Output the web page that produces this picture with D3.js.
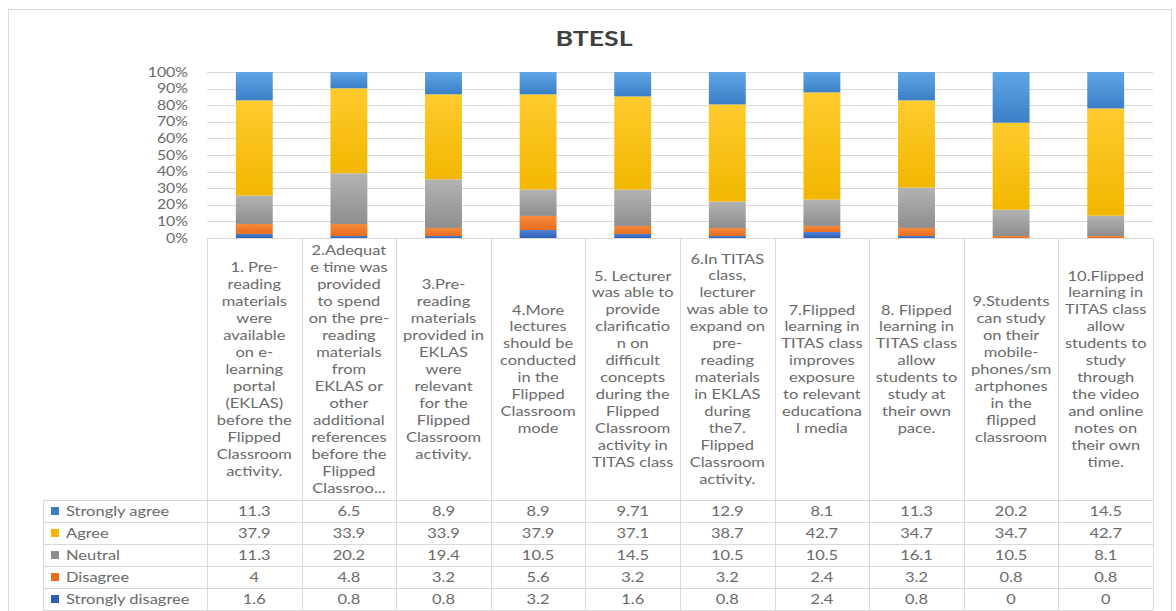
<!DOCTYPE html>
<html>
<head>
<meta charset="utf-8">
<script src="https://cdn.jsdelivr.net/npm/d3@7"></script>
<style>
  body { margin: 0; background: #fff; }
  text { font-family: Lato, "Open Sans", sans-serif; }
</style>
</head>
<body>
<svg id="fig" width="1176" height="611"></svg>
<script>
// chart data
const categories = [
  ['1. Pre-', 'reading', 'materials', 'were', 'available', 'on e-', 'learning', 'portal', '(EKLAS)', 'before the', 'Flipped', 'Classroom', 'activity.'],
  ['2.Adequat', 'e time was', 'provided', 'to spend', 'on the pre-', 'reading', 'materials', 'from', 'EKLAS or', 'other', 'additional', 'references', 'before the', 'Flipped', 'Classroo...'],
  ['3.Pre-', 'reading', 'materials', 'provided in', 'EKLAS', 'were', 'relevant', 'for the', 'Flipped', 'Classroom', 'activity.'],
  ['4.More', 'lectures', 'should be', 'conducted', 'in the', 'Flipped', 'Classroom', 'mode'],
  ['5. Lecturer', 'was able to', 'provide', 'clarificatio', 'n on', 'difficult', 'concepts', 'during the', 'Flipped', 'Classroom', 'activity in', 'TITAS class'],
  ['6.In TITAS', 'class,', 'lecturer', 'was able to', 'expand on', 'pre-', 'reading', 'materials', 'in EKLAS', 'during', 'the7.', 'Flipped', 'Classroom', 'activity.'],
  ['7.Flipped', 'learning in', 'TITAS class', 'improves', 'exposure', 'to relevant', 'educationa', 'l media'],
  ['8. Flipped', 'learning in', 'TITAS class', 'allow', 'students to', 'study at', 'their own', 'pace.'],
  ['9.Students', 'can study', 'on their', 'mobile-', 'phones/sm', 'artphones', 'in the', 'flipped', 'classroom'],
  ['10.Flipped', 'learning in', 'TITAS class', 'allow', 'students to', 'study', 'through', 'the video', 'and online', 'notes on', 'their own', 'time.']
];
const seriesNames = ['Strongly agree', 'Agree', 'Neutral', 'Disagree', 'Strongly disagree'];
const stronglyAgree    = ['11.3', '6.5', '8.9', '8.9', '9.71', '12.9', '8.1', '11.3', '20.2', '14.5'];
const agree            = ['37.9', '33.9', '33.9', '37.9', '37.1', '38.7', '42.7', '34.7', '34.7', '42.7'];
const neutral          = ['11.3', '20.2', '19.4', '10.5', '14.5', '10.5', '10.5', '16.1', '10.5', '8.1'];
const disagree         = ['4', '4.8', '3.2', '5.6', '3.2', '3.2', '2.4', '3.2', '0.8', '0.8'];
const stronglyDisagree = ['1.6', '0.8', '0.8', '3.2', '1.6', '0.8', '2.4', '0.8', '0', '0'];
const seriesValues = [stronglyAgree, agree, neutral, disagree, stronglyDisagree];
const title = 'BTESL';

const colors = {
  'Strongly agree':    ['#5fa6e6', '#3a7fc6'],
  'Agree':             ['#ffcb2e', '#f2b700'],
  'Neutral':           ['#b3b3b3', '#8e8e8e'],
  'Disagree':          ['#f68a3c', '#e86d1e'],
  'Strongly disagree': ['#4f82d6', '#2f5fb5']
};

const svg = d3.select('#fig');
const plotLeft = 207, plotRight = 1153, plotTop = 72, plotBase = 238;
const tableTop = 500, rowH = 22, tableLeft = 43;
const grid = '#d9d9d9', textCol = '#6a6a6a';
const sx = 1.22; // the source picture is stretched sideways

// outer frame
svg.append('rect').attr('x', 8.5).attr('y', 9.5).attr('width', 1163).attr('height', 620)
  .attr('fill', 'none').attr('stroke', grid);

svg.append('text').attr('transform', `translate(594, 46) scale(1.27,1)`).attr('text-anchor', 'middle')
  .attr('font-size', 21).attr('font-weight', 'bold').attr('fill', '#404040').text(title);

// gradients
const defs = svg.append('defs');
seriesNames.forEach((s, i) => {
  const g = defs.append('linearGradient').attr('id', 'g' + i)
    .attr('x1', 0).attr('y1', 0).attr('x2', 0).attr('y2', 1);
  g.append('stop').attr('offset', '0%').attr('stop-color', colors[s][0]);
  g.append('stop').attr('offset', '100%').attr('stop-color', colors[s][1]);
});

const idx = d3.range(categories.length);
const x = d3.scaleBand().domain(idx).range([plotLeft, plotRight]).padding(0);
const y = d3.scaleLinear().domain([0, 1]).range([plotBase, plotTop]);

// gridlines + y labels
const ticks = y.ticks(10);
svg.append('g').selectAll('line').data(ticks).join('line')
  .attr('x1', plotLeft).attr('x2', plotRight)
  .attr('y1', d => Math.round(y(d)) + 0.5).attr('y2', d => Math.round(y(d)) + 0.5)
  .attr('stroke', grid).attr('stroke-width', 1);
svg.append('g').selectAll('text').data(ticks).join('text')
  .attr('transform', d => `translate(188, ${y(d) + 4.5}) scale(${sx},1)`).attr('text-anchor', 'end')
  .attr('font-size', 13).attr('fill', textCol).text(d3.format('.0%'));

// 100% stacked bars, bottom to top: strongly disagree ... strongly agree
const rows = idx.map(i => {
  const r = { i };
  seriesNames.forEach((s, k) => r[s] = +seriesValues[k][i]);
  return r;
});
const stack = d3.stack().keys(seriesNames.slice().reverse()).offset(d3.stackOffsetExpand);
const layers = stack(rows);
const barW = x.bandwidth() * 0.39;
svg.append('g').selectAll('g').data(layers).join('g')
  .attr('fill', d => 'url(#g' + seriesNames.indexOf(d.key) + ')')
  .selectAll('rect').data(d => d).join('rect')
  .attr('x', d => x(d.data.i) + (x.bandwidth() - barW) / 2)
  .attr('width', barW)
  .attr('y', d => y(d[1]))
  .attr('height', d => Math.max(0, y(d[0]) - y(d[1])));

// data table
const table = svg.append('g').attr('stroke', grid).attr('stroke-width', 1);
table.append('line').attr('x1', plotLeft).attr('x2', plotRight).attr('y1', plotBase + 0.5).attr('y2', plotBase + 0.5);
d3.range(seriesNames.length + 1).forEach(r => {
  table.append('line').attr('x1', tableLeft).attr('x2', plotRight)
    .attr('y1', tableTop + r * rowH + 0.5).attr('y2', tableTop + r * rowH + 0.5);
});
table.append('line').attr('x1', tableLeft + 0.5).attr('x2', tableLeft + 0.5)
  .attr('y1', tableTop).attr('y2', tableTop + seriesNames.length * rowH);
idx.concat([categories.length]).forEach(i => {
  const xx = Math.round(i < categories.length ? x(i) : plotRight) + 0.5;
  table.append('line').attr('x1', xx).attr('x2', xx)
    .attr('y1', plotBase).attr('y2', tableTop + seriesNames.length * rowH);
});

// header cells
const headMid = (plotBase + tableTop) / 2, lineH = 17;
svg.append('g').selectAll('text').data(categories).join('text')
  .attr('text-anchor', 'middle').attr('font-size', 13.5).attr('fill', textCol)
  .attr('transform', (d, i) => `translate(${x(i) + x.bandwidth() / 2}, ${headMid - (d.length - 1) * lineH / 2 + 5}) scale(${sx},1)`)
  .selectAll('tspan').data(d => d).join('tspan')
  .attr('x', 0).attr('y', (d, j) => j * lineH).text(d => d);

// legend column + values
seriesNames.forEach((s, k) => {
  const cy = tableTop + k * rowH + rowH / 2;
  svg.append('rect').attr('x', 51).attr('y', cy - 4).attr('width', 8).attr('height', 8)
    .attr('fill', colors[s][1]);
  svg.append('text').attr('transform', `translate(66, ${cy + 5}) scale(${sx},1)`).attr('font-size', 13.5)
    .attr('fill', textCol).text(s);
  svg.append('g').selectAll('text').data(seriesValues[k]).join('text')
    .attr('transform', (d, i) => `translate(${x(i) + x.bandwidth() / 2}, ${cy + 5}) scale(${sx},1)`)
    .attr('text-anchor', 'middle').attr('font-size', 13.5).attr('fill', textCol)
    .text(d => d);
});
</script>
</body>
</html>
